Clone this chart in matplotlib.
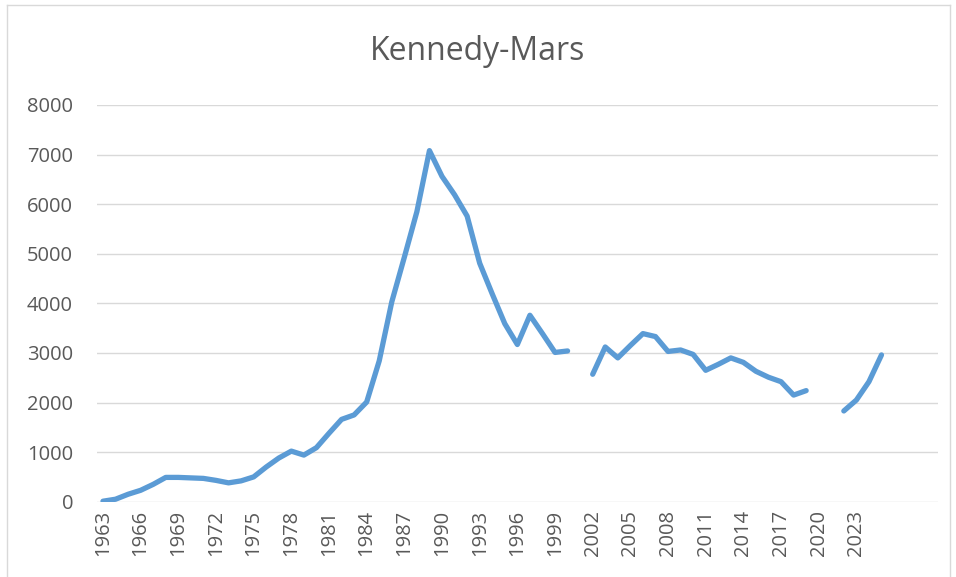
import numpy as np
import matplotlib
matplotlib.use("Agg")
import matplotlib.pyplot as plt
from matplotlib.lines import Line2D

title = "Kennedy-Mars"
years = list(range(1963, 2030))
values = [
    10, 50, 150, 230, 350, 490, 490, 480, 470, 430,      # 1963-1972
    380, 420, 500, 700, 880, 1020, 940, 1090, 1380, 1660,  # 1973-1982
    1750, 2010, 2840, 4030, 4930, 5850, 7080, 6560, 6190, 5760,  # 1983-1992
    4810, 4190, 3590, 3170, 3760, 3390, 3010, 3040, np.nan, 2570,  # 1993-2002
    3120, 2900, 3150, 3390, 3330, 3030, 3060, 2970, 2650, 2770,  # 2003-2012
    2900, 2810, 2630, 2510, 2420, 2150, 2240, np.nan, np.nan, 1830,  # 2013-2022
    2050, 2420, 2960,  # 2023-2025
    np.nan, np.nan, np.nan, np.nan,  # 2026-2029 (empty)
]
yticks = [0, 1000, 2000, 3000, 4000, 5000, 6000, 7000, 8000]
xtick_labels = [str(y) for y in range(1963, 2024, 3)]

plt.rcParams['font.family'] = ['Open Sans', 'DejaVu Sans']

W, H = 956, 577
fig = plt.figure(figsize=(W / 100, H / 100), dpi=100)
ax = fig.add_axes([96.7 / W, 1 - 501.7 / H, (938 - 96.7) / W, (501.7 - 105) / H])

x = np.arange(len(years))
ax.plot(x, values, color="#5B9BD5", lw=3.8, solid_capstyle="round",
        solid_joinstyle="round", zorder=3)

ax.set_xlim(-0.5, len(years) - 0.5)
ax.set_ylim(0, 8000)
ax.set_yticks(yticks)
ax.set_yticklabels([str(v) for v in yticks])
ax.grid(axis="y", color="#D9D9D9", lw=1.0)
ax.set_axisbelow(True)

tick_pos = [years.index(int(s)) for s in xtick_labels]
ax.set_xticks(tick_pos)
ax.set_xticklabels(xtick_labels, rotation=90)

for s in ax.spines.values():
    s.set_visible(False)
ax.tick_params(axis="both", length=0, colors="#595959", labelsize=14.5)
ax.tick_params(axis="y", pad=17)
ax.tick_params(axis="x", pad=6)

fig.text(0.5, 1 - 52 / H, title, ha="center", va="center",
         fontsize=23, color="#595959")

# chart area border
bc = "#D9D9D9"
fig.add_artist(Line2D([7 / W, 7 / W], [0, 1 - 5 / H], transform=fig.transFigure, color=bc, lw=1))
fig.add_artist(Line2D([7 / W, 950 / W], [1 - 5 / H, 1 - 5 / H], transform=fig.transFigure, color=bc, lw=1))
fig.add_artist(Line2D([950 / W, 950 / W], [0, 1 - 5 / H], transform=fig.transFigure, color=bc, lw=1))

fig.savefig("out.png", dpi=100, facecolor="white")
